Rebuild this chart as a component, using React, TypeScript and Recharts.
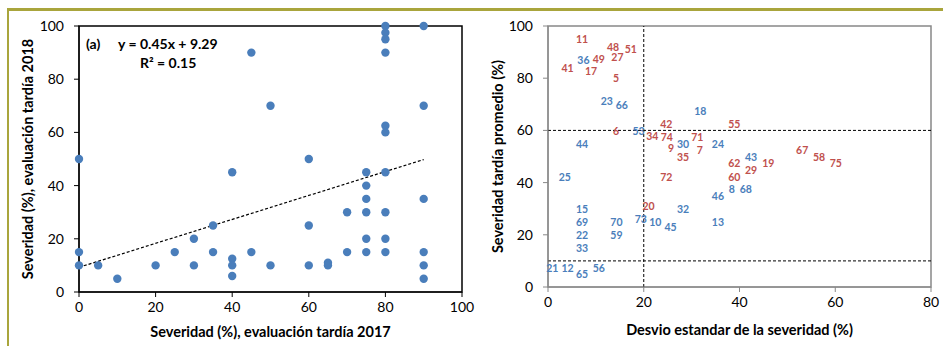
import {
  ScatterChart,
  Scatter,
  XAxis,
  YAxis,
  ReferenceLine,
  ReferenceArea,
} from 'recharts';

// panel (a): severidad 2017 vs 2018
const sev2017 = [0, 0, 0, 5, 10, 20, 25, 30, 30, 35, 35, 40, 40, 40, 40, 45, 45, 50, 50, 60, 60, 60, 65, 65, 70, 70, 75, 75, 75, 75, 75, 75, 80, 80, 80, 80, 80, 80, 80, 80, 80, 80, 90, 90, 90, 90, 90, 90];
const sev2018 = [50, 15, 10, 10, 5, 10, 15, 20, 10, 25, 15, 45, 12.5, 10, 6, 90, 15, 70, 10, 50, 25, 10, 10, 11, 30, 15, 45, 40, 35, 30, 20, 15, 100, 97.5, 95, 90, 62.5, 60, 45, 30, 20, 15, 100, 70, 35, 15, 10, 5];
const slope = 0.45;
const intercept = 9.29;
const r2 = 0.15;
const trendMaxX = 90;

// panel (b): desvio estandar vs severidad promedio, labelled by line number
const redIds = ['11', '48', '51', '49', '27', '41', '17', '5', '6', '42', '34', '74', '9', '35', '71', '7', '55', '62', '60', '29', '19', '67', '58', '75', '72', '20'];
const redSd = [7.1, 13.6, 17.3, 10.6, 14.5, 4.1, 9.0, 14.2, 14.2, 24.7, 21.8, 24.8, 25.7, 28.2, 31.2, 31.7, 38.9, 38.9, 38.9, 42.4, 46.0, 53.1, 56.6, 60.1, 24.7, 21.0];
const redMean = [94.9, 92.1, 91.0, 87.5, 88.2, 83.9, 82.9, 80.1, 59.8, 62.4, 57.8, 57.5, 53.1, 49.7, 57.3, 52.4, 62.4, 47.4, 42.3, 44.9, 47.4, 52.3, 49.7, 47.4, 42.3, 30.9];

const blueIds = ['36', '23', '66', '53', '18', '44', '30', '24', '43', '46', '8', '68', '25', '15', '69', '22', '33', '70', '59', '73', '10', '45', '32', '13', '21', '12', '65', '56'];
const blueSd = [7.4, 12.3, 15.4, 18.9, 31.8, 7.1, 28.2, 35.5, 42.4, 35.5, 38.4, 41.3, 3.5, 7.1, 7.1, 7.1, 7.1, 14.3, 14.3, 19.4, 22.4, 25.6, 28.2, 35.5, 0.9, 4.1, 7.1, 10.6];
const blueMean = [87.0, 71.2, 69.9, 59.8, 67.4, 54.9, 54.9, 54.9, 49.9, 34.8, 37.6, 37.6, 42.3, 29.9, 24.8, 19.8, 15.0, 24.8, 19.8, 26.0, 24.8, 22.9, 29.9, 24.8, 7.3, 7.3, 4.9, 7.3];

const leftTicksX = [0, 20, 40, 60, 80, 100];
const rightTicksX = [0, 20, 40, 60, 80];
const ticksY = [0, 20, 40, 60, 80, 100];
const refX = [20];
const refY = [60, 10];

const FONT = 'Lato, "Open Sans", sans-serif';
const BLUE = '#4a7ebb';
const RED = '#c0504d';

const scatterA = sev2017.map((x, i) => ({ x, y: sev2018[i] }));
const redData = redIds.map((id, i) => ({ id, x: redSd[i], y: redMean[i] }));
const blueData = blueIds.map((id, i) => ({ id, x: blueSd[i], y: blueMean[i] }));

const tickStyle = { fontSize: 14, fill: '#000', fontFamily: FONT };
const titleStyle = { fontSize: 14.5, fontWeight: 700, fill: '#000', fontFamily: FONT, textAnchor: 'middle' as const };
const noteStyle = { position: 'absolute' as const, fontSize: 14, fontWeight: 700, lineHeight: '16px', whiteSpace: 'nowrap' as const };

const dot = (props: any) => <circle cx={props.cx} cy={props.cy} r={4.2} fill={BLUE} />;
const idLabel = (color: string) => (props: any) => (
  <text
    x={props.cx}
    y={props.cy}
    textAnchor="middle"
    dominantBaseline="central"
    fontSize={10.5}
    fontWeight={700}
    fontFamily={FONT}
    fill={color}
  >
    {props.payload.id}
  </text>
);

export default function App() {
  return (
    <div style={{ position: 'absolute', left: 0, top: 0, width: 943, height: 346, background: '#fff', fontFamily: FONT }}>
      <div
        style={{
          position: 'absolute',
          left: 7,
          top: 8,
          width: 940,
          height: 340,
          borderTop: '3px solid #a9a53c',
          borderLeft: '2.5px solid #a9a53c',
        }}
      />

      <div style={{ position: 'absolute', left: 0, top: 0 }}>
        <ScatterChart width={480} height={346} margin={{ top: 26, right: 18, bottom: 0, left: 0 }}>
          <XAxis
            type="number"
            dataKey="x"
            domain={[0, 100]}
            ticks={leftTicksX}
            height={54}
            tickSize={5}
            tickMargin={5}
            axisLine={{ stroke: '#000' }}
            tickLine={{ stroke: '#000' }}
            tick={tickStyle}
            label={{ value: 'Severidad (%), evaluación tardía 2017', position: 'insideBottom', offset: 9, style: titleStyle }}
          />
          <YAxis
            type="number"
            dataKey="y"
            domain={[0, 100]}
            ticks={ticksY}
            width={79}
            tickSize={5}
            tickMargin={10}
            axisLine={{ stroke: '#000' }}
            tickLine={{ stroke: '#000' }}
            tick={tickStyle}
            label={{ value: 'Severidad (%), evaluación tardía 2018', angle: -90, position: 'insideLeft', offset: 28, style: titleStyle }}
          />
          <ReferenceArea x1={0} x2={100} y1={0} y2={100} fill="none" stroke="#000" strokeWidth={1.5} />
          <ReferenceLine
            segment={[
              { x: 0, y: intercept },
              { x: trendMaxX, y: slope * trendMaxX + intercept },
            ]}
            stroke="#000"
            strokeWidth={1.2}
            strokeDasharray="3 2"
          />
          <Scatter data={scatterA} shape={dot} isAnimationActive={false} />
        </ScatterChart>
        <div style={{ ...noteStyle, left: 86, top: 36 }}>(a)</div>
        <div style={{ ...noteStyle, left: 118, top: 36 }}>
          y = {slope}x + {intercept}
        </div>
        <div style={{ ...noteStyle, left: 140, top: 55 }}>R² = {r2}</div>
      </div>

      <div style={{ position: 'absolute', left: 480, top: 0 }}>
        <ScatterChart width={463} height={346} margin={{ top: 26, right: 12, bottom: 0, left: 0 }}>
          <XAxis
            type="number"
            dataKey="x"
            domain={[0, 80]}
            ticks={rightTicksX}
            height={59}
            tickSize={5}
            tickMargin={5}
            axisLine={{ stroke: '#888' }}
            tickLine={{ stroke: '#888' }}
            tick={tickStyle}
            label={{ value: 'Desvio estandar de la severidad (%)', position: 'insideBottom', offset: 11, style: titleStyle }}
          />
          <YAxis
            type="number"
            dataKey="y"
            domain={[0, 100]}
            ticks={ticksY}
            width={68}
            tickSize={5}
            tickMargin={10}
            axisLine={{ stroke: '#888' }}
            tickLine={{ stroke: '#888' }}
            tick={tickStyle}
            label={{ value: 'Severidad tardía promedio (%)', angle: -90, position: 'insideLeft', offset: 18, style: titleStyle }}
          />
          <ReferenceArea x1={0} x2={80} y1={0} y2={100} fill="none" stroke="#888" strokeWidth={1.5} />
          {refX.map((v) => (
            <ReferenceLine key={'x' + v} x={v} stroke="#000" strokeWidth={1} strokeDasharray="3 2" />
          ))}
          {refY.map((v) => (
            <ReferenceLine key={'y' + v} y={v} stroke="#000" strokeWidth={1} strokeDasharray="3 2" />
          ))}
          <Scatter data={redData} shape={idLabel(RED)} isAnimationActive={false} />
          <Scatter data={blueData} shape={idLabel(BLUE)} isAnimationActive={false} />
        </ScatterChart>
      </div>
    </div>
  );
}
